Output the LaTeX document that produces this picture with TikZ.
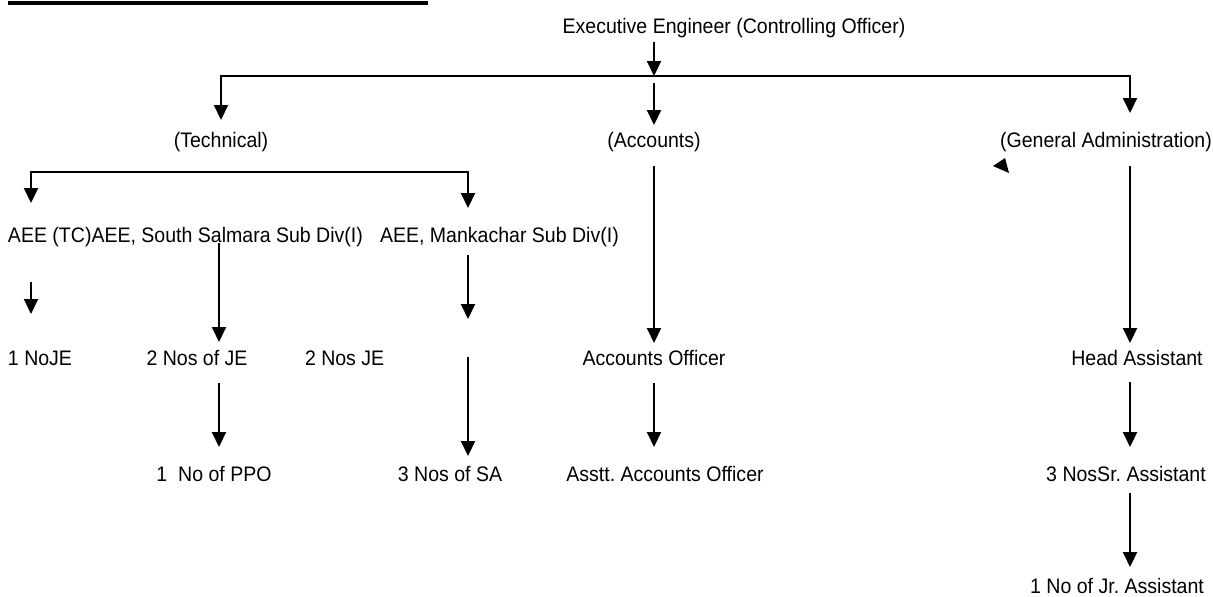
\documentclass[tikz,border=0pt]{standalone}
\usepackage{fontspec}
\setmainfont[FakeStretch=0.93]{Liberation Sans}
\usetikzlibrary{arrows.meta}
\frenchspacing

\begin{document}
\begin{tikzpicture}[x=0.5pt,y=-0.5pt,line width=1pt,
  >={Triangle[length=7.5pt,width=7pt]},
  lbl/.style={font=\fontsize{10.5}{12}\selectfont, inner sep=0pt, outer sep=0pt, text height=8pt, text depth=2pt}]
\useasboundingbox (0,0) rectangle (1213,596);
%columns and bus points
\coordinate (xA) at (31,0);
\coordinate (xB) at (219,0);
\coordinate (xC) at (468,0);
\coordinate (xD) at (654,0);
\coordinate (xE) at (1130,0);
\coordinate (bus) at (1130,76);
\coordinate (tbL) at (31,172);
\coordinate (tbR) at (468,172);
\coordinate (m1) at (468,319);
\coordinate (m2) at (468,357);
\draw[line width=1.75pt] (8,3) -- (428,3);
\node[lbl] (ee) at (734,27) {Executive Engineer (Controlling Officer)};
\node[lbl] (tech) at (221,141) {(Technical)};
\node[lbl] (acc) at (654,141) {(Accounts)};
\node[lbl] (gen) at (1106,141) {(General Administration)};
\node[lbl,anchor=west] (aee) at (8,236) {AEE (TC)AEE, South Salmara Sub Div(I)};
\node[lbl,anchor=west] (mank) at (380,236) {AEE, Mankachar Sub Div(I)};
\node[lbl,anchor=west] (je1) at (8,359) {1 NoJE};
\node[lbl] (je2) at (197,359) {2 Nos of JE};
\node[lbl,anchor=west] (je3) at (305,359) {2 Nos JE};
\node[lbl] (accoff) at (654,359) {Accounts Officer};
\node[lbl] (head) at (1137,359) {Head Assistant};
\node[lbl] (ppo) at (214,475) {1\ \ No of PPO};
\node[lbl] (sa) at (450,475) {3 Nos of SA};
\node[lbl] (aao) at (665,475) {Asstt. Accounts Officer};
\node[lbl] (sr) at (1126,475) {3 NosSr. Assistant};
\node[lbl] (jr) at (1117,587) {1 No of Jr. Assistant};
%connectors
\draw[->, shorten <=2.5pt] (ee.south -| xD) -- (bus -| xD);
\draw[<->, shorten <=5.5pt, shorten >=9pt] (tech.north) |- (bus) -| (gen.north -| xE);
\draw[->, shorten <=3.5pt, shorten >=3pt] (bus -| acc) -- (acc.north);
\draw[<->, shorten <=11.5pt, shorten >=9pt] (aee.north -| tbL) -- (tbL) -- (tbR) -- (mank.north -| tbR);
\draw[->, shorten <=18pt, shorten >=17.5pt] (aee.south -| xA) -- (je1.north -| xA);
\draw[->, shorten <=-1.5pt, shorten >=3.5pt] (aee.south -| xB) -- (je2.north -| xB);
\draw[->, shorten <=4.5pt] (mank.south -| xC) -- (m1);
\draw[->, shorten >=4.5pt] (m2) -- (sa.north -| xC);
\draw[->, shorten <=7.5pt, shorten >=3pt] (acc.south) -- (accoff.north);
\draw[->, shorten <=7.5pt, shorten >=3pt] (gen.south -| xE) -- (head.north -| xE);
\draw[->, shorten <=7pt, shorten >=9pt] (je2.south -| xB) -- (ppo.north -| xB);
\draw[->, shorten <=7pt, shorten >=9pt] (accoff.south) -- (aao.north -| xD);
\draw[->, shorten <=6.5pt, shorten >=9pt] (head.south -| xE) -- (sr.north -| xE);
\draw[->, shorten <=4pt, shorten >=5pt] (sr.south -| xE) -- (jr.north -| xE);
\fill (993,166) -- (1005,158) -- (1009,173) -- cycle;
\end{tikzpicture}
\end{document}
